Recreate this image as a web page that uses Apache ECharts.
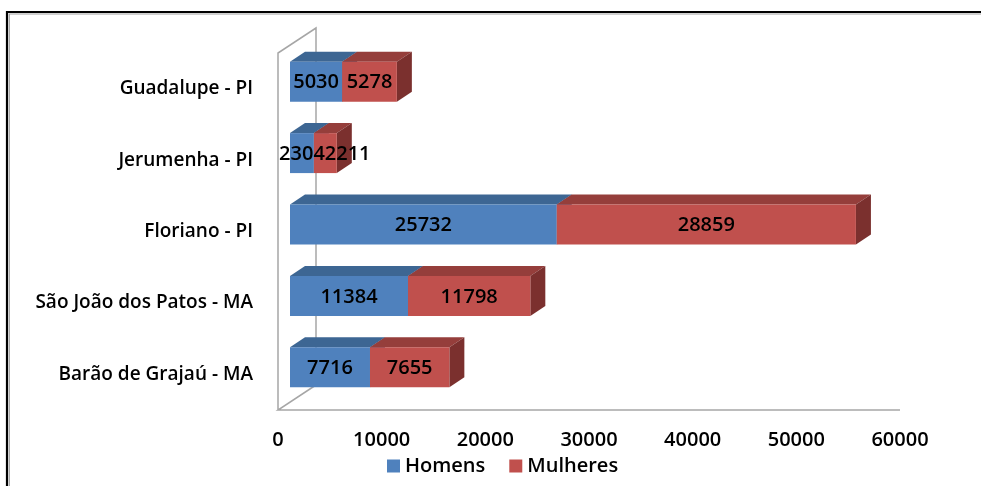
<!DOCTYPE html>
<html>
<head>
<meta charset="utf-8">
<script src="https://cdn.jsdelivr.net/npm/echarts@6/dist/echarts.min.js"></script>
<style>
  html, body { margin: 0; padding: 0; background: #fff; }
  #main { width: 981px; height: 486px; }
</style>
</head>
<body>
<div id="main"></div>
<script>
// bottom to top, as the category axis draws them
const categories = ['Barão de Grajaú - MA', 'São João dos Patos - MA', 'Floriano - PI', 'Jerumenha - PI', 'Guadalupe - PI'];
const homens = [7716, 11384, 25732, 2304, 5030];
const mulheres = [7655, 11798, 28859, 2211, 5278];
const xTicks = [0, 10000, 20000, 30000, 40000, 50000, 60000];

const FONT = '"Open Sans", "DejaVu Sans", sans-serif';
const LABEL_FONT = '600 20px ' + FONT;

const measureCtx = document.createElement('canvas').getContext('2d');
function textWidth(s) {
  measureCtx.font = LABEL_FONT;
  return measureCtx.measureText(s).width;
}

// fake 3D box for one stacked segment
function boxRenderer(front, top, side, pushRight) {
  return function (params, api) {
    const cat = api.value(0);
    const start = api.value(1);
    const end = api.value(2);
    const label = String(api.value(3));
    const p0 = api.coord([start, cat]);
    const p1 = api.coord([end, cat]);
    const band = api.size([0, 1])[1];
    const h = band * 0.56;
    const x0 = p0[0] + 12, x1 = p1[0] + 12;
    const yc = p0[1] - 7;
    const yt = yc - h / 2, yb = yc + h / 2;
    const dx = 15, dy = -10;
    let tx = (x0 + x1) / 2;
    if (pushRight) {
      // keep clear of the label of the segment before it
      const prevLabel = String(homens[cat]);
      const prevX0 = api.coord([0, cat])[0] + 12;
      const prevRight = (prevX0 + x0) / 2 + textWidth(prevLabel) / 2;
      const w = textWidth(label);
      if (tx - w / 2 < prevRight) tx = prevRight + w / 2;
    }
    return {
      type: 'group',
      children: [
        { type: 'polygon', shape: { points: [[x0, yt], [x0 + dx, yt + dy], [x1 + dx, yt + dy], [x1, yt]] }, style: { fill: top } },
        { type: 'polygon', shape: { points: [[x1, yt], [x1 + dx, yt + dy], [x1 + dx, yb + dy], [x1, yb]] }, style: { fill: side } },
        { type: 'rect', shape: { x: x0, y: yt, width: x1 - x0, height: h }, style: { fill: front } },
        {
          type: 'text', z2: 100,
          style: {
            text: label, x: tx, y: yc + 1,
            align: 'center', verticalAlign: 'middle',
            font: LABEL_FONT, fill: '#000'
          }
        }
      ]
    };
  };
}

function wallRenderer(params) {
  const g = params.coordSys;
  const L = g.x, T = g.y, B = g.y + g.height, R = g.x + g.width;
  const dx = 38, dy = -25;
  const st = { stroke: '#a6a6a6', lineWidth: 1.5, fill: null };
  return {
    type: 'group',
    children: [
      { type: 'polyline', shape: { points: [[L, B], [L, T], [L + dx, T + dy], [L + dx, B + dy], [L, B], [R, B]] }, style: st }
    ]
  };
}

const homensData = homens.map((v, i) => [i, 0, v, v]);
const mulheresData = mulheres.map((v, i) => [i, homens[i], homens[i] + v, v]);

const chart = echarts.init(document.getElementById('main'));
chart.setOption({
  animation: false,
  backgroundColor: '#fff',
  graphic: [
    { type: 'rect', silent: true, shape: { x: 7, y: 12, width: 1100, height: 600 }, style: { fill: null, stroke: '#000', lineWidth: 2.2 } },
    { type: 'rect', silent: true, shape: { x: 9.3, y: 14, width: 1100, height: 600 }, style: { fill: null, stroke: '#a0a0a0', lineWidth: 1.2 } }
  ],
  grid: { left: 278, right: 81, top: 53, bottom: 76 },
  legend: {
    data: ['Homens', 'Mulheres'],
    left: 382,
    top: 451,
    icon: 'rect',
    itemWidth: 13,
    itemHeight: 13,
    itemGap: 24,
    textStyle: { fontFamily: FONT, fontSize: 20, fontWeight: 600, color: '#000' }
  },
  xAxis: {
    type: 'value',
    min: xTicks[0],
    max: xTicks[xTicks.length - 1],
    interval: xTicks[1] - xTicks[0],
    axisLine: { show: false },
    axisTick: { show: false },
    splitLine: { show: false },
    axisLabel: { margin: 20, fontFamily: FONT, fontSize: 20, fontWeight: 600, color: '#000', formatter: v => String(v) }
  },
  yAxis: {
    type: 'category',
    data: categories,
    axisLine: { show: false },
    axisTick: { show: false },
    axisLabel: { margin: 25, fontFamily: FONT, fontSize: 19, fontWeight: 600, color: '#000', padding: [6, 0, 0, 0] }
  },
  series: [
    { type: 'custom', name: 'walls', silent: true, z: 1, renderItem: wallRenderer, data: [[0, 0]], encode: { y: 0, x: 1 } },
    {
      type: 'custom', name: 'Homens', itemStyle: { color: '#4f81bd' },
      renderItem: boxRenderer('#4f81bd', '#3d6693', '#3d6693', false),
      encode: { y: 0, x: [1, 2] }, data: homensData
    },
    {
      type: 'custom', name: 'Mulheres', itemStyle: { color: '#c0504d' },
      renderItem: boxRenderer('#c0504d', '#953e3b', '#7b302e', true),
      encode: { y: 0, x: [1, 2] }, data: mulheresData
    }
  ]
});
</script>
</body>
</html>
